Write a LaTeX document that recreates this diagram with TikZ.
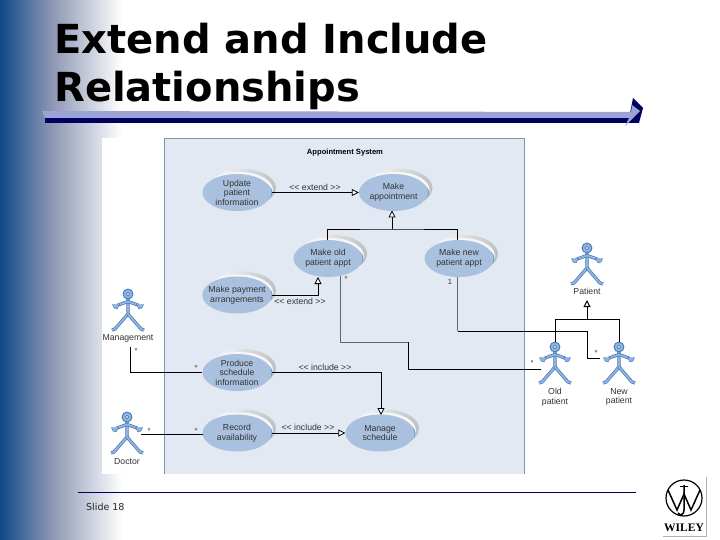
\documentclass[tikz,border=0pt]{standalone}
\usepackage{fontspec}
\setmainfont{Liberation Sans}
\newfontfamily\titlefont{DejaVu Sans}
\newfontfamily\logofont{Liberation Serif}
\usetikzlibrary{arrows.meta,shapes.geometric}
\definecolor{barlight}{HTML}{9AA2D6}
\definecolor{barnavy}{HTML}{00005E}
\definecolor{paneblue}{HTML}{E3E9F2}
\definecolor{paneedge}{HTML}{8096AC}
\definecolor{casebody}{HTML}{A9C1DE}
\definecolor{casedark}{HTML}{6E96C6}
\definecolor{actorfill}{HTML}{8DB4E2}
\definecolor{actorline}{HTML}{3F6FA8}
\definecolor{sidestart}{HTML}{0F4A88}
\definecolor{sidemid}{HTML}{8A94B2}
\begin{document}
\begin{tikzpicture}[x=1pt,y=-1pt]
	\tikzstyle{usecase} = [ellipse, fill=casebody, minimum width=69pt, minimum height=37pt, inner sep=-4pt, align=center, text=black!80, font={\fontsize{8.7}{9.6}\selectfont}];
	\tikzstyle{label} = [text=black!80, inner sep=0pt, align=center, font={\fontsize{8.7}{9.6}\selectfont}];
	\tikzstyle{mult} = [text=black!80, inner sep=0pt, font={\fontsize{7.5}{8}\selectfont}];
	\tikzstyle{link} = [thick, black];
	\tikzstyle{faded} = [thick, paneedge!70!black];
	\tikzstyle{hollow} = [link, -{Triangle[open, fill=white, length=7pt, width=7pt]}];
	\tikzstyle{limb} = [draw=actorline, line width=0.6pt, double=actorfill, double distance=2pt, line join=round];

	\useasboundingbox (0,0) rectangle (720,540);
	\fill[white] (0,0) rectangle (720,540);
	\shade[left color=sidestart, right color=sidemid] (0,0) rectangle (50,540);
	\shade[left color=sidemid, right color=white] (50,0) rectangle (122,540);

	\node[anchor=base west, inner sep=0pt, font={\titlefont\bfseries\fontsize{40}{48}\selectfont}] (titleone) at (54,54) {Extend and Include};
	\node[anchor=base west, inner sep=0pt, font={\titlefont\bfseries\fontsize{40}{48}\selectfont}] (titletwo) at (54,102) {Relationships};

	\fill[barnavy] (45,118) rectangle (632,123);
	\fill[barnavy] (633,98) -- (643,108) -- (639,123) -- (628,123) -- cycle;
	\fill[barlight] (42,111) -- (631,112) -- (632,105) -- (640,111) -- (625,126) -- (629,118) -- (45,118) -- cycle;

	\fill[white] (102,138) rectangle (164,474);
	\fill[paneblue] (164,138) rectangle (524,474);
	\draw[paneedge] (164,474) -- (164,138) -- (524,138) -- (524,474);

	\node[inner sep=0pt, font={\bfseries\fontsize{7.6}{9}\selectfont}] (paneName) at (345,153) {Appointment System};

	\foreach \cn/\cx/\cy/\ct in {
		update/237/192.5/{Update\\patient\\information},
		appt/393.5/192.5/{Make\\appointment},
		old/328/258.5/{Make old\\patient appt},
		new/459/258.5/{Make new\\patient appt},
		pay/237/295/{Make payment\\arrangements},
		produce/237/372.5/{Produce\\schedule\\information},
		record/237/433/{Record\\availability},
		manage/380/433/{Manage\\schedule}} {
		\shade[left color=white, right color=black!25] (\cx+6,\cy-4.5) ellipse (33pt and 19pt);
		\fill[paneblue!40!white] (\cx+3,\cy-2.5) ellipse (33pt and 18pt);
		\fill[casedark] (\cx+2.5,\cy) ellipse (33pt and 15pt);
		\node[usecase] (\cn) at (\cx,\cy) {\ct};
	}

	\foreach \an/\ax/\ay/\at/\aoff in {
		management/128/294/Management/44,
		doctor/127/417/Doctor/45,
		patient/587/248/Patient/43,
		oldp/555/347/{Old\\patient}/50,
		newp/619/347/{New\\patient}/50} {
		\begin{scope}[shift={(\ax,\ay)}]
			\draw[limb] (0,5) -- (0,20) -- (-13,35) -- (-16,36);
			\draw[limb] (0,20) -- (13,35) -- (16,36);
			\draw[limb] (-10,11) -- (0,7.5) -- (10,11);
			\fill[actorfill, draw=actorline, thin] (-15.5,10.5) -- (-8.5,10.5) -- (-11,15) -- (-14,14) -- cycle;
			\fill[actorfill, draw=actorline, thin] (15.5,10.5) -- (8.5,10.5) -- (11,15) -- (14,14) -- cycle;
			\draw[actorline, fill=actorfill, line width=0.8pt] (0,0) circle (5pt);
			\draw[actorline, fill=paneblue, line width=0.6pt] (0,0) circle (1.8pt);
			\coordinate (\an) at (0,0);
			\node[label] (\an name) at (0,\aoff) {\at};
		\end{scope}
	}

	\coordinate (genTip) at (392,210.5);
	\coordinate (genMid) at (392,229);
	\coordinate (genOld) at (327,240);
	\coordinate (genNew) at (457.5,240);
	\coordinate (oldIn) at (318,277);
	\coordinate (oldOut) at (340,276);
	\coordinate (newOut) at (457.5,277);
	\coordinate (newBend) at (457.5,331);
	\coordinate (oldTurn) at (408,342);
	\coordinate (oldHand) at (541,369);
	\coordinate (newTurn) at (587,331);
	\coordinate (newHand) at (600,358);
	\coordinate (mgmtOut) at (130,347);
	\coordinate (docHand) at (141,434.5);
	\coordinate (recordIn) at (203,434.5);
	\coordinate (manageTop) at (381,415);
	\coordinate (patTip) at (587,300);
	\coordinate (patMid) at (587,319.5);
	\coordinate (oldTop) at (555,342);
	\coordinate (newTop) at (619,342);

	\draw[hollow] (update.east) -- (appt.west);
	\draw[hollow] (genMid) -- (genTip);
	\draw[link] (genOld) |- (genMid) -| (genNew);
	\draw[hollow] (pay.east) -| (oldIn);
	\draw[faded] (oldOut) |- (oldTurn);
	\draw[link] (oldTurn) |- (oldHand);
	\draw[faded] (newOut) -- (newBend);
	\draw[link] (newBend) -- (newTurn) |- (newHand);
	\draw[link] (mgmtOut) |- (produce.west);
	\draw[link, line width=1pt] (docHand) -- (recordIn);
	\draw[hollow] (produce.east) -| (manageTop);
	\draw[hollow] (record.east) -- (manage.west);
	\draw[hollow, line width=1pt] (patMid) -- (patTip);
	\draw[link] (oldTop) |- (patMid) -| (newTop);

	\node[label] (extendUp) at (315,187) {<{}< extend >{}>};
	\node[label] (extendPay) at (300,301.5) {<{}< extend >{}>};
	\node[label] (includeUp) at (325,367) {<{}< include >{}>};
	\node[label] (includeDown) at (308,427) {<{}< include >{}>};
	\node[mult] (oldOne) at (346,279) {*};
	\node[mult] (newOne) at (450,282) {1};
	\node[mult] (mgmtStar) at (136,351) {*};
	\node[mult] (produceStar) at (196,368) {*};
	\node[mult] (docStar) at (149,431) {*};
	\node[mult] (recordStar) at (196,431) {*};
	\node[mult] (oldStar) at (532,363) {*};
	\node[mult] (newStar) at (596,353) {*};

	\draw[barnavy, thick] (78,492) -- (636,492);
	\node[anchor=base west, inner sep=0pt, text=black!85, font={\titlefont\fontsize{9.5}{11}\selectfont}] (slideNo) at (86,510) {Slide 18};

	\fill[white] (663,477) rectangle (706,536);
	\draw[black!30] (706,477) -- (706,536) -- (663,536);
	\draw[black, line width=1.2pt] (684,498) circle (18pt);
	\draw[black, line width=1.5pt, line join=miter] (668,490) -- (677,510) -- (684,494) -- (691,510) -- (700,490);
	\draw[black, line width=1.5pt] (684,485) -- (684,510) .. controls (684,515) and (680,516) .. (678,513);
	\draw[black, line width=1pt] (680,486) -- (688,486);
	\node[inner sep=0pt, font={\logofont\bfseries\fontsize{11.5}{12}\selectfont}] (logoName) at (684,528) {WILEY};
\end{tikzpicture}
\end{document}
